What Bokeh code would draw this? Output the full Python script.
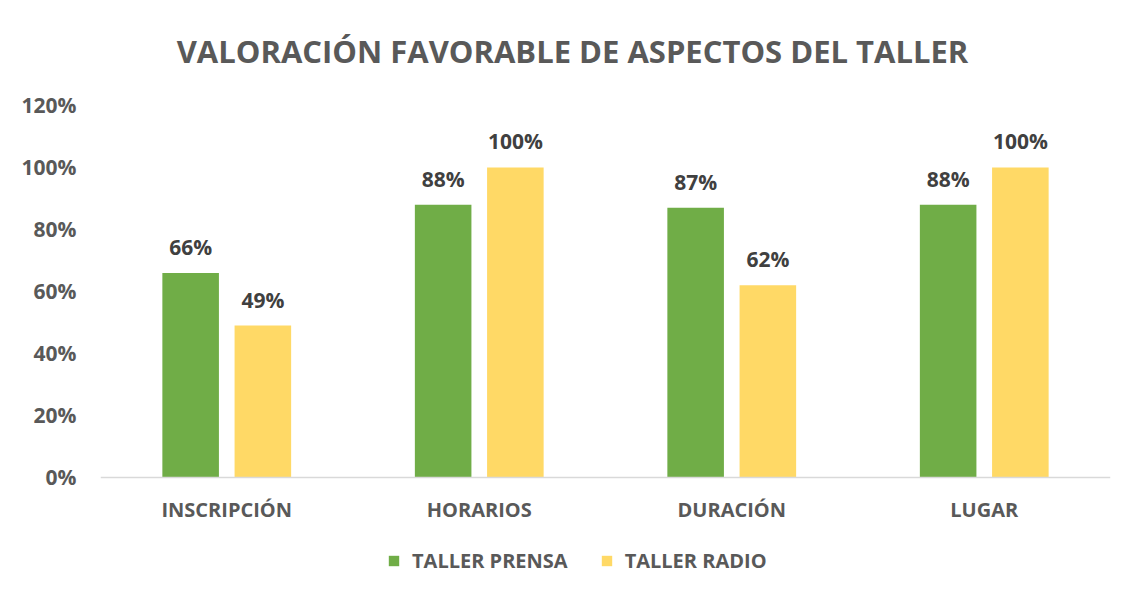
from bokeh.plotting import figure
from bokeh.models import (ColumnDataSource, FactorRange, Range1d, Legend, LegendItem, Label,
                          NumeralTickFormatter, FixedTicker, CategoricalAxis)
from bokeh.transform import dodge
from bokeh.core.properties import value
from bokeh.embed import file_html
from bokeh.resources import INLINE

categories = ["INSCRIPCIÓN", "HORARIOS", "DURACIÓN", "LUGAR"]
prensa = [0.66, 0.88, 0.87, 0.88]
radio = [0.49, 1.00, 0.62, 1.00]
series_names = ["TALLER PRENSA", "TALLER RADIO"]
y_ticks = [0, 0.2, 0.4, 0.6, 0.8, 1.0, 1.2]
title_text = "VALORACIÓN FAVORABLE DE ASPECTOS DEL TALLER"

FONT = "Open Sans"
GREEN = "#70AD47"
YELLOW = "#FFD966"
TXT = "#595959"
LBL = "#404040"

src = ColumnDataSource(dict(
    cat=categories, prensa=prensa, radio=radio,
    prensa_lbl=[f"{round(v*100)}%" for v in prensa],
    radio_lbl=[f"{round(v*100)}%" for v in radio],
))

# frame spans full height; 0% sits 120px above the bottom, 120% 105px below the top
p = figure(width=1132, height=597, x_range=FactorRange(*categories, range_padding=0),
           y_range=Range1d(-0.3871, 1.5387), output_backend="svg", toolbar_location=None,
           x_axis_location=None,
           min_border_left=100, min_border_right=22, min_border_top=0, min_border_bottom=0)
p.outline_line_color = None
p.grid.grid_line_color = None

r1 = p.vbar(x=dodge("cat", -0.143, range=p.x_range), top="prensa", width=0.224, source=src,
            fill_color=GREEN, line_color=None)
r2 = p.vbar(x=dodge("cat", 0.143, range=p.x_range), top="radio", width=0.224, source=src,
            fill_color=YELLOW, line_color=None)

for off, col, lab in [(-0.143, "prensa", "prensa_lbl"), (0.143, "radio", "radio_lbl")]:
    p.text(x=dodge("cat", off, range=p.x_range), y=col, text=lab, source=src,
           text_align="center", text_baseline="bottom", y_offset=-12,
           text_font=value(FONT), text_font_style="bold", text_font_size="21px", text_color=LBL)

# x axis fixed at 0 inside the frame
xax = CategoricalAxis(fixed_location=0)
xax.axis_line_color = "#D9D9D9"
xax.axis_line_width = 1.5
xax.major_tick_line_color = None
xax.minor_tick_line_color = None
xax.major_label_standoff = 13
p.add_layout(xax, "below")

p.yaxis.ticker = FixedTicker(ticks=y_ticks)
p.yaxis.formatter = NumeralTickFormatter(format="0%")
p.yaxis.axis_line_color = None
p.yaxis.major_tick_line_color = None
p.yaxis.minor_tick_line_color = None
p.yaxis.major_label_standoff = 18
for ax, fs in ((xax, "20px"), (p.yaxis[0], "21px")):
    ax.major_label_text_font = FONT
    ax.major_label_text_font_style = "bold"
    ax.major_label_text_font_size = fs
    ax.major_label_text_color = TXT

# title
p.add_layout(Label(x=472, y=547, x_units="screen", y_units="screen", text=title_text,
                   text_align="center", text_baseline="middle", text_font=FONT,
                   text_font_style="bold", text_font_size="31px", text_color=TXT))

legend = Legend(items=[LegendItem(label=series_names[0], renderers=[r1]),
                       LegendItem(label=series_names[1], renderers=[r2])],
                orientation="horizontal", location=(287, 23),
                glyph_width=13, glyph_height=13, label_standoff=12, spacing=32,
                padding=0, margin=0, border_line_color=None, background_fill_alpha=0,
                label_text_font=FONT, label_text_font_style="bold",
                label_text_font_size="20px", label_text_color=TXT)
p.add_layout(legend, "center")

open("out.html", "w").write(file_html(p, INLINE))
